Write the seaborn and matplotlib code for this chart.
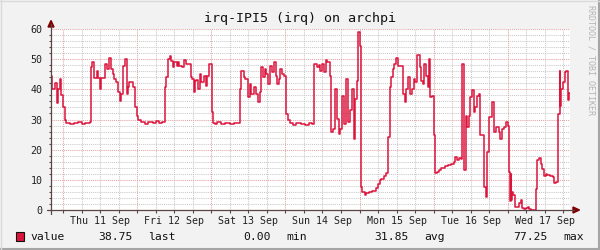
import matplotlib
matplotlib.use("Agg")
import matplotlib.pyplot as plt
import seaborn as sns
import pandas as pd
from matplotlib.patches import Polygon, Rectangle
from matplotlib.lines import Line2D

# ---------------- data ----------------
title = "irq-IPI5 (irq) on archpi"
series_name = "value"
day_labels = ["Thu 11 Sep", "Fri 12 Sep", "Sat 13 Sep", "Sun 14 Sep",
              "Mon 15 Sep", "Tue 16 Sep", "Wed 17 Sep"]
# hours since Thu 11 Sep 00:00 (start of each step) and the value of that step
hours = [
    -3.9, -3.6, -2.6, -2.0, -1.6, -1.0, -0.5, -0.1, 0.55, 0.9,
    2.3, 3.5, 5.0, 6.3, 7.0, 8.0, 8.6,
    9.1, 9.5, 10.0, 11.0, 11.4, 11.9, 12.3, 13.7, 14.2, 14.9, 15.5, 16.2, 16.6,
    17.1, 17.9, 18.4, 18.9, 19.5, 20.1, 20.7, 21.1, 21.5, 22.7, 23.4, 23.9, 24.3,
    25.4, 26.5, 27.5, 29.0, 30.0, 31.0, 32.0,
    33.0, 33.5, 34.1, 34.6, 35.1, 35.5, 36.0, 36.8, 37.2, 37.7, 38.6, 39.2, 39.9,
    40.8, 41.3, 41.8, 42.3, 42.7, 43.1, 43.7, 44.2, 44.8, 45.5, 46.2, 46.7, 47.4,
    48.2, 48.7, 49.1, 50.0, 51.0, 52.5, 54.0, 55.5, 56.5,
    57.2, 57.7, 58.5, 59.0, 59.9, 60.4, 61.0, 61.7, 62.4, 63.1, 63.7, 64.2, 64.8,
    65.3, 65.8, 66.4, 66.9, 67.7, 68.2, 68.8, 69.3, 69.8, 70.4, 70.9, 71.7, 72.2,
    72.7, 73.4, 74.5, 75.5, 77.0, 78.5, 79.5, 80.5,
    81.2, 82.3, 82.9, 83.3, 83.9, 84.4, 85.0, 85.5, 86.3, 86.9, 87.3, 88.2, 88.8,
    89.3, 89.8, 90.4, 90.9, 91.7, 92.2, 93.0, 93.5, 94.1, 94.6, 95.1, 95.4, 96.2,
    96.5, 96.9, 97.6, 98.2, 99.2, 100.1, 101.2, 101.9, 102.5, 103.0, 103.9, 104.7,
    105.2, 105.7, 106.3, 106.8, 107.3, 107.9, 108.4, 110.0, 110.6, 111.1, 111.7,
    112.4, 113.0, 113.5, 114.1, 114.6, 115.5, 115.9, 116.4, 117.0, 117.5, 118.0,
    118.4, 118.9, 119.4, 120.0, 120.3, 121.1, 121.6, 122.4, 123.8, 124.6, 125.6,
    126.5, 127.0, 127.6, 128.1, 128.7, 129.2, 129.7, 130.3, 130.8, 131.3, 131.9,
    132.4, 133.0, 133.5, 134.0, 134.6, 135.1, 136.2, 136.8, 137.3, 137.8, 138.9,
    139.6, 140.2, 141.0, 141.5, 142.0, 142.6, 143.4, 144.0, 144.5, 144.7, 144.9,
    145.1, 145.3, 145.6, 146.2, 147.6, 148.1, 148.6, 149.2, 149.9, 150.5, 151.0,
    151.6, 153.0, 153.5, 154.0, 154.6, 155.1, 155.7, 156.2, 156.8, 157.8, 158.6,
    159.1, 159.7, 160.2, 160.8, 161.0, 161.3, 161.8, 162.4, 162.9, 163.5, 163.8,
    164.1,
]
values = [
    44.5, 40.0, 42.0, 35.5, 40.0, 43.5, 38.0, 34.0, 29.7, 29.0,
    28.5, 28.9, 29.1, 28.4, 28.9, 28.7, 29.2,
    47.3, 48.9, 43.7, 46.0, 43.7, 40.0, 43.6, 48.4, 46.7, 50.5, 46.7, 45.0, 43.5,
    42.3, 39.0, 36.0, 38.5, 47.8, 50.0, 38.5, 40.7, 42.3, 40.7, 34.0, 31.3, 30.0,
    29.1, 28.6, 29.3, 28.8, 29.4, 28.7, 29.3,
    40.7, 44.0, 50.0, 51.0, 49.5, 47.5, 49.0, 47.8, 49.0, 47.8, 47.3, 49.7, 48.4,
    48.4, 44.0, 43.4, 39.2, 42.9, 43.0, 40.0, 45.0, 42.3, 44.5, 41.2, 44.5, 48.4,
    32.4, 29.0, 28.6, 29.2, 28.4, 28.9, 28.6, 29.0, 28.8,
    40.0, 46.2, 44.0, 43.4, 37.4, 41.8, 38.5, 40.7, 38.5, 35.7, 39.0, 47.3, 44.0,
    46.7, 45.0, 41.8, 47.8, 45.6, 49.0, 44.5, 41.8, 43.4, 46.7, 45.0, 44.5, 31.9,
    29.7, 28.7, 28.2, 28.9, 28.4, 28.3, 28.9, 28.6,
    48.4, 47.3, 48.0, 46.2, 48.4, 45.6, 49.7, 49.1, 44.5, 25.8, 26.9, 40.1, 30.2,
    25.3, 26.9, 37.9, 28.6, 43.4, 29.1, 33.0, 40.1, 23.6, 36.8, 42.9, 59.0, 54.4,
    7.7, 6.0, 4.9, 5.5, 6.0, 6.4, 7.4, 8.5, 9.9, 10.4, 11.3, 12.1,
    24.2, 40.7, 44.0, 46.7, 48.4, 50.5, 47.8, 38.5, 35.7, 40.1, 44.0,
    38.5, 40.1, 43.4, 42.3, 51.3, 47.3, 42.9, 41.8, 48.4, 44.5, 40.7,
    50.0, 37.4, 37.9, 24.7, 12.1, 12.6, 13.4, 14.0, 14.5, 14.8, 15.4,
    15.9, 17.6, 16.5, 17.3, 17.0, 48.4, 13.2, 31.3, 27.5, 31.3, 37.4,
    39.8, 32.4, 34.1, 37.9, 38.5, 24.7, 7.7, 4.4, 19.2, 30.8, 35.7,
    25.8, 27.5, 25.8, 23.6, 26.9, 27.5, 29.1, 28.0, 12.6, 3.0, 12.0,
    3.3, 6.0, 4.9, 1.1, 2.2, 3.3, 0.5, 0.2, 0.8, 1.1, 0.3,
    0.0, 7.1, 16.5, 17.3, 15.4, 13.7, 11.3, 11.8, 11.5, 11.3, 11.0,
    8.8, 9.3, 31.9, 46.0, 34.6, 40.1, 42.3, 45.6, 46.2, 36.5, 38.75,
    38.75,
]
legend_names = ["last", "min", "avg", "max"]
legend_values = [38.75, 0.00, 31.85, 77.25]
y_ticks = [0, 10, 20, 30, 40, 50, 60]

df = pd.DataFrame({"hour": hours, "value": values})

# ---------------- style ----------------
W, H = 600, 250
BG = "#F2F2F2"
LINE = "#DC143C"
AXIS = "#5a4646"
ARROW = "#7F0000"
MINOR_GRID = "#C9C9C9"
MAJOR_GRID = "#E3A3A3"
MONO = "DejaVu Sans Mono"

sns.set_theme(style="white")
plt.rcParams["font.family"] = [MONO, "DejaVu Sans"]

fig = plt.figure(figsize=(W / 100, H / 100), dpi=100, facecolor=BG)
L, R, T, B = 51, 570, 29, 210
ax = fig.add_axes([L / W, 1 - B / H, (R - L) / W, (B - T) / H])
ax.set_facecolor("white")

x0, x1 = -3.88, 164.12
ax.set_xlim(x0, x1)
ax.set_ylim(0, 60)

# grid
dot = (0, (1, 1))
for v in range(0, 61, 2):
    if v % 10:
        ax.axhline(v, color=MINOR_GRID, lw=0.75, ls=dot, zorder=1)
for v in range(0, 61, 10):
    ax.axhline(v, color=MAJOR_GRID, lw=0.75, ls=dot, zorder=1.1)
for h in range(-0, 168, 6):
    if h % 24:
        ax.axvline(h, color=MINOR_GRID, lw=0.75, ls=dot, zorder=1)
for h in range(0, 168, 24):
    ax.axvline(h, color=MAJOR_GRID, lw=0.75, ls=dot, zorder=1.1)

sns.lineplot(data=df, x="hour", y="value", ax=ax, drawstyle="steps-post",
             color=LINE, linewidth=1.1, estimator=None, sort=False,
             legend=False, zorder=3)

for s in ax.spines.values():
    s.set_visible(False)

ax.set_xlabel("")
ax.set_ylabel("")
ax.set_yticks(y_ticks)
ax.set_yticklabels([str(t) for t in y_ticks])
ax.set_yticks(list(range(0, 61, 2)), minor=True)
ax.tick_params(axis="y", which="major", direction="out", length=3, width=0.8,
               color=AXIS, pad=3, labelsize=7.2, labelcolor="#222222")
ax.tick_params(axis="y", which="minor", direction="out", length=1.5,
               width=0.8, color=AXIS, left=True)

ax.xaxis.remove_overlapping_locs = False
ax.set_xticks([12 + 24 * i for i in range(len(day_labels))])
ax.set_xticklabels(day_labels)
ax.set_xticks(list(range(0, 168, 6)), minor=True)
ax.tick_params(axis="x", which="major", length=0, pad=4.5, labelsize=7.2,
               labelcolor="#222222")
ax.tick_params(axis="x", which="minor", direction="out", length=2, width=0.8,
               color=AXIS, bottom=True)

# axes lines and arrows (figure pixel coords)
def fx(px):
    return px / W

def fy(py):
    return 1 - py / H

fig.add_artist(Line2D([fx(L), fx(L)], [fy(B + 4), fy(24)], color=AXIS, lw=0.9))
fig.add_artist(Line2D([fx(L - 4), fx(R + 4)], [fy(B), fy(B)], color=AXIS, lw=0.9))
fig.add_artist(Polygon([[fx(L - 3), fy(27)], [fx(L + 3), fy(27)], [fx(L), fy(20.5)]],
                       closed=True, color=ARROW, transform=fig.transFigure))
fig.add_artist(Polygon([[fx(R + 3), fy(B - 3)], [fx(R + 3), fy(B + 3)], [fx(R + 9.5), fy(B)]],
                       closed=True, color=ARROW, transform=fig.transFigure))

# title
fig.text(fx(300), fy(22), title, ha="center", va="baseline", fontsize=9.6,
         color="#111111")

# watermark
fig.text(fx(590.5), fy(60), "RRDTOOL / TOBI OETIKER", rotation=270,
         ha="center", va="center", fontsize=6, color="#B4B4B4")

# legend
fig.add_artist(Rectangle((fx(15.5), fy(240.5)), 8 / W, 8.5 / H, facecolor=LINE,
                         edgecolor="#111111", lw=0.8, transform=fig.transFigure))
fig.text(fx(30), fy(240), series_name, ha="left", va="baseline", fontsize=8.2,
         color="#111111")
val_right = [133, 271, 409, 548]
name_left = [148, 286, 424, 563]
for name, val, vr, nl in zip(legend_names, legend_values, val_right, name_left):
    fig.text(fx(vr), fy(240), f"{val:.2f}", ha="right", va="baseline",
             fontsize=8.2, color="#111111")
    fig.text(fx(nl), fy(240), name, ha="left", va="baseline", fontsize=8.2,
             color="#111111")

# frame (3D border)
fig.add_artist(Line2D([0, 1], [fy(249), fy(249)], color="#A5A5A5", lw=1.5))
fig.add_artist(Line2D([fx(599), fx(599)], [0, 1], color="#A5A5A5", lw=1.5))
fig.add_artist(Line2D([0, 1], [fy(0.5), fy(0.5)], color="#DADADA", lw=1.0))
fig.add_artist(Line2D([fx(0.5), fx(0.5)], [0, 1], color="#DADADA", lw=1.0))

fig.savefig("out.png", dpi=100, facecolor=BG)
